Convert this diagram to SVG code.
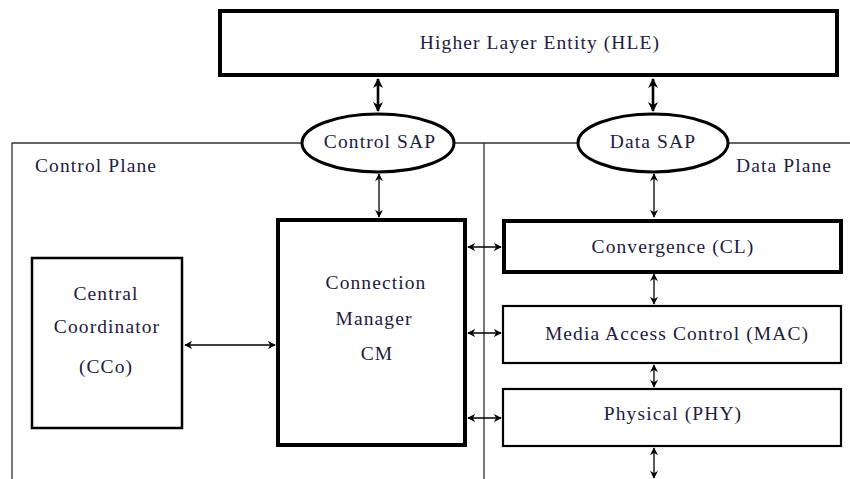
<svg xmlns="http://www.w3.org/2000/svg" width="850" height="479" viewBox="0 0 850 479">
<style>
text{font-family:"Liberation Serif","Times New Roman",serif;font-size:19.5px;letter-spacing:1.1px;fill:#1d2040;text-anchor:middle}
.lbl{text-anchor:start}
.box{fill:#fff;stroke:#000}
.frame{fill:none;stroke:#333;stroke-width:1.3}
.c{fill:none;stroke:#000;stroke-width:1.3}
.ct{fill:none;stroke:#000;stroke-width:2.6}
</style>
<defs>
<marker id="a" viewBox="0 0 10 10" refX="9" refY="5" markerWidth="8" markerHeight="8" markerUnits="userSpaceOnUse" orient="auto-start-reverse"><path d="M0,0 L10,5 L0,10 L3,5 Z" fill="#000"/></marker>
<marker id="b" viewBox="0 0 10 10" refX="9" refY="5" markerWidth="10" markerHeight="10" markerUnits="userSpaceOnUse" orient="auto-start-reverse"><path d="M0,0 L10,5 L0,10 L3,5 Z" fill="#000"/></marker>
</defs>
<g id="frame">
<path class="frame" d="M12,479 V143 H302 M455,143 H578 M728,143 H850 M484,143 V479"/>
<text class="lbl" x="35" y="172">Control Plane</text>
<text class="lbl" x="736" y="172">Data Plane</text>
</g>
<g id="connectors">
<line class="ct" x1="378" y1="79" x2="378" y2="111" marker-start="url(#b)" marker-end="url(#b)"/>
<line class="ct" x1="653" y1="79" x2="653" y2="111" marker-start="url(#b)" marker-end="url(#b)"/>
<line class="c" x1="379" y1="174" x2="379" y2="217" marker-start="url(#a)" marker-end="url(#a)"/>
<line class="c" x1="654" y1="174" x2="654" y2="217" marker-start="url(#a)" marker-end="url(#a)"/>
<line class="c" x1="654" y1="274" x2="654" y2="304" marker-start="url(#a)" marker-end="url(#a)"/>
<line class="c" x1="654" y1="365" x2="654" y2="387" marker-start="url(#a)" marker-end="url(#a)"/>
<line class="c" x1="654" y1="448" x2="654" y2="478" marker-start="url(#a)" marker-end="url(#a)"/>
<line class="c" x1="185" y1="345" x2="275" y2="345" marker-start="url(#a)" marker-end="url(#a)"/>
<line class="c" x1="468" y1="247" x2="501" y2="247" marker-start="url(#a)" marker-end="url(#a)"/>
<line class="c" x1="468" y1="333" x2="501" y2="333" marker-start="url(#a)" marker-end="url(#a)"/>
<line class="c" x1="468" y1="418" x2="501" y2="418" marker-start="url(#a)" marker-end="url(#a)"/>
</g>
<g id="hle">
<rect class="box" x="220" y="11" width="617" height="64" stroke-width="4"/>
<text x="540" y="49">Higher Layer Entity (HLE)</text>
</g>
<g id="control-sap">
<ellipse class="box" cx="378" cy="143" rx="76" ry="29" stroke-width="3"/>
<text x="380" y="148">Control SAP</text>
</g>
<g id="data-sap">
<ellipse class="box" cx="653" cy="143" rx="75" ry="29" stroke-width="3"/>
<text x="653" y="148">Data SAP</text>
</g>
<g id="cco">
<rect class="box" x="32" y="258" width="150" height="170" stroke-width="2.5"/>
<text x="106" y="300">Central</text>
<text x="107" y="333">Coordinator</text>
<text x="106" y="373">(CCo)</text>
</g>
<g id="cm">
<rect class="box" x="278" y="220" width="187" height="225" stroke-width="4"/>
<text x="376" y="289">Connection</text>
<text x="374" y="325">Manager</text>
<text x="377" y="360">CM</text>
</g>
<g id="cl">
<rect class="box" x="504" y="221" width="337" height="51" stroke-width="4"/>
<text x="673" y="253">Convergence (CL)</text>
</g>
<g id="mac">
<rect class="box" x="503" y="306" width="338" height="57" stroke-width="2.2"/>
<text x="677" y="340">Media Access Control (MAC)</text>
</g>
<g id="phy">
<rect class="box" x="503" y="389" width="338" height="57" stroke-width="2.2"/>
<text x="673" y="420">Physical (PHY)</text>
</g>
</svg>
